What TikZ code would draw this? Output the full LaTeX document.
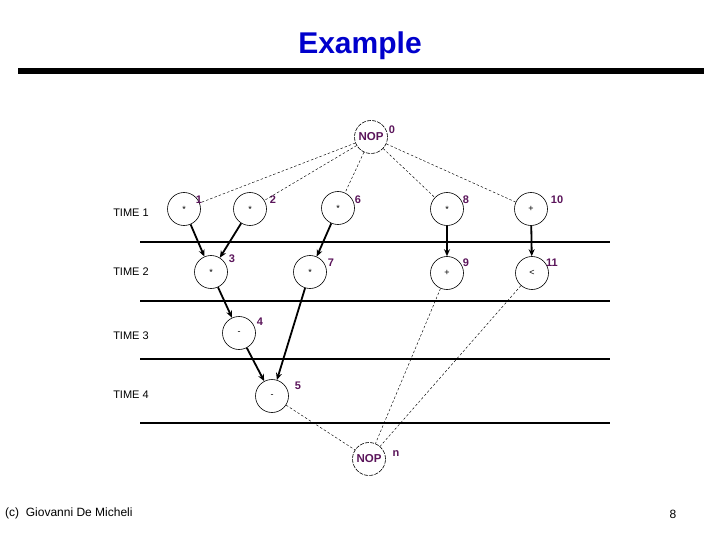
\documentclass[tikz,border=0pt]{standalone}
\usepackage{fontspec}
\setmainfont{Liberation Sans}
\usetikzlibrary{arrows.meta}
\definecolor{lab}{RGB}{90,20,90}
\definecolor{ttl}{RGB}{0,0,204}
\tikzset{
  op/.style={circle,draw,line width=0.6pt,minimum size=33pt,inner sep=0pt,font=\fontsize{9}{9}\selectfont},
  nop/.style={circle,draw,dash pattern=on 4pt off 1.2pt,line width=0.6pt,minimum size=33pt,inner sep=0pt,font=\fontsize{11.5}{11.5}\selectfont\bfseries,text=lab},
  num/.style={font=\fontsize{11}{11}\selectfont\bfseries,text=lab,inner sep=0pt},
  tlab/.style={font=\fontsize{11}{11}\selectfont,inner sep=0pt},
  dep/.style={line width=1.8pt,-{Stealth[length=7pt,width=6pt]}},
  dsh/.style={line width=0.45pt,dash pattern=on 2.5pt off 2pt},
  hl/.style={line width=1.1pt}
}
\begin{document}
\begin{tikzpicture}[x=1pt,y=-1pt]
\useasboundingbox (0,0) rectangle (720,540);
\node[font=\fontsize{30}{30}\selectfont\bfseries,text=ttl] (title) at (360,46) {Example};
\draw[line width=6pt] (18,71) -- (704,71);
% horizontal lines
\draw[hl] (140,242) -- (610,242);
\draw[hl] (140,301) -- (610,301);
\draw[hl] (140,359) -- (610,359);
\draw[hl] (140,423) -- (610,423);
% time labels
\node[tlab] (t1) at (131,213) {TIME 1};
\node[tlab] (t2) at (131,272) {TIME 2};
\node[tlab] (t3) at (131,336) {TIME 3};
\node[tlab] (t4) at (131,395) {TIME 4};
% nodes
\node[nop] (n0) at (371,137) {NOP};
\node[num] (l0) at (392,130) {0};
\node[op] (n1) at (184,209) {*};
\node[num] (l1) at (199,200) {1};
\node[op] (n2) at (250,209) {*};
\node[num] (l2) at (273,200) {2};
\node[op] (n6) at (338,208) {*};
\node[num] (l6) at (358,200) {6};
\node[op] (n8) at (447,209) {*};
\node[num] (l8) at (466,200) {8};
\node[op] (n10) at (531,209) {+};
\node[num] (l10) at (557,200) {10};
\node[op] (n3) at (211,272) {*};
\node[num] (l3) at (232,259) {3};
\node[op] (n7) at (310,272) {*};
\node[num] (l7) at (331,263) {7};
\node[op] (n9) at (447,273) {+};
\node[num] (l9) at (466,263) {9};
\node[op] (n11) at (532,273) {<};
\node[num] (l11) at (552,263) {11};
\node[op] (n4) at (239,333) {-};
\node[num] (l4) at (260,322) {4};
\node[op] (n5) at (272,396) {-};
\node[num] (l5) at (298,386) {5};
\node[nop] (nn) at (369,459) {NOP};
\node[num] (ln) at (396,454) {n};
% dashed edges
\draw[dsh] (n0) -- (n1);
\draw[dsh] (n0) -- (n2);
\draw[dsh] (n0) -- (n6);
\draw[dsh] (n0) -- (n8);
\draw[dsh] (n0) -- (n10);
\draw[dsh] (n5) -- (nn);
\draw[dsh] (n9) -- (nn);
\draw[dsh] (n11) -- (nn);
% dependencies
\draw[dep] (n1) -- (n3);
\draw[dep] (n2) -- (n3);
\draw[dep] (n6) -- (n7);
\draw[dep] (n3) -- (n4);
\draw[dep] (n4) -- (n5);
\draw[dep] (n7) -- (n5);
\draw[dep] (n8) -- (n9);
\draw[dep] (n10) -- (n11);
% footer
\node[font=\fontsize{12}{12}\selectfont,anchor=west,inner sep=0pt] (foot) at (5,513) {(c)\ \ Giovanni De Micheli};
\node[font=\fontsize{12}{12}\selectfont,inner sep=0pt] (page) at (673,514) {8};
\end{tikzpicture}
\end{document}
